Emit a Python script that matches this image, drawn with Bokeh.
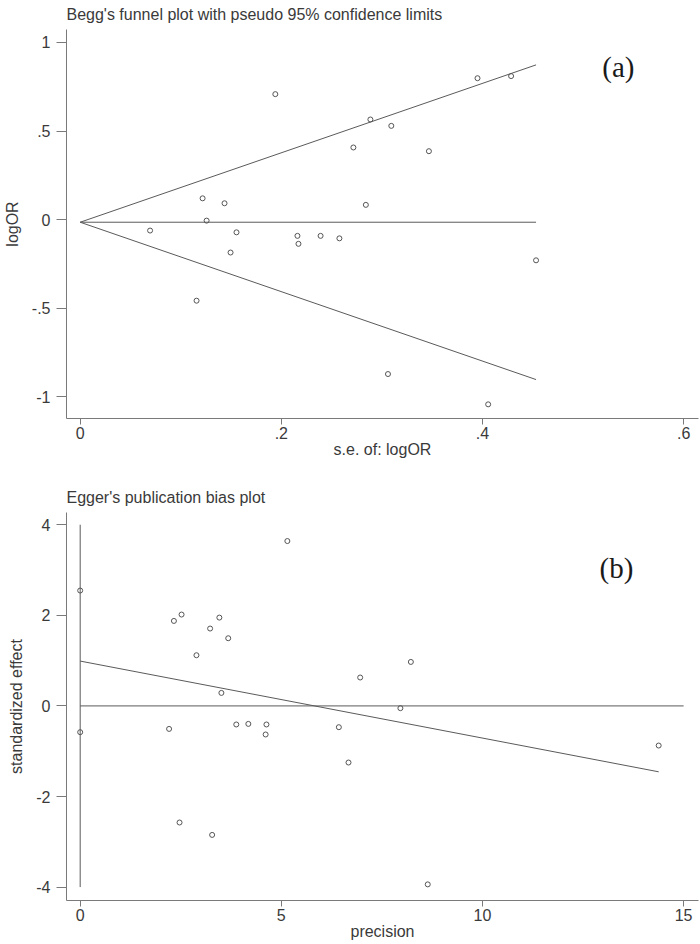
from bokeh.plotting import figure
from bokeh.layouts import column
from bokeh.models import FixedTicker, Range1d, Label
from bokeh.embed import file_html
from bokeh.resources import INLINE

# ---------------- data: Begg's funnel plot ----------------
begg_se = [0.194, 0.1217, 0.1435, 0.1257, 0.0695, 0.1554, 0.216, 0.239, 0.2577,
           0.217, 0.1495, 0.1157, 0.395, 0.4284, 0.2885, 0.3093, 0.2716, 0.3467,
           0.284, 0.4532, 0.306, 0.4056]
begg_logor = [0.708, 0.120, 0.092, -0.006, -0.062, -0.072, -0.092, -0.092, -0.106,
              -0.137, -0.186, -0.458, 0.798, 0.810, 0.565, 0.529, 0.407, 0.386,
              0.083, -0.230, -0.872, -1.043]
pooled_logor = -0.015
z95 = 1.96
begg_xticks = [0, 0.2, 0.4, 0.6]
begg_xlabels = ["0", ".2", ".4", ".6"]
begg_yticks = [-1, -0.5, 0, 0.5, 1]
begg_ylabels = ["-1", "-.5", "0", ".5", "1"]

# ---------------- data: Egger's plot ----------------
egger_prec = [0.0, 5.15, 2.33, 2.52, 3.46, 3.23, 3.68, 2.89, 3.51, 8.22, 6.96,
              0.0, 2.21, 3.88, 4.18, 4.63, 4.61, 6.43, 6.67, 2.47, 3.28,
              7.96, 14.38, 8.64]
egger_eff = [2.547, 3.64, 1.876, 2.017, 1.95, 1.708, 1.494, 1.119, 0.287, 0.971, 0.627,
             -0.58, -0.508, -0.41, -0.397, -0.41, -0.631, -0.47, -1.25, -2.574, -2.848,
             -0.05, -0.875, -3.94]
egger_intercept = 0.99
egger_slope = -0.17
egger_vline = [-4, 4]
egger_hline_end = 15
egger_xticks = [0, 5, 10, 15]
egger_yticks = [-4, -2, 0, 2, 4]

FONT = "Liberation Sans"
TXT = "#3a3a3a"
AX = "#7a7a7a"
LN = "#5a5a5a"
PT = "#555555"


def style(p, xt, xl, yt, yl, xlab, ylab):
    p.grid.visible = False
    p.outline_line_color = None
    p.title.align = "left"
    p.title.text_font = FONT
    p.title.text_font_size = "16px"
    p.title.text_font_style = "normal"
    p.title.text_color = TXT
    p.title.standoff = 10
    p.title.vertical_align = "top"
    for ax in (p.xaxis[0], p.yaxis[0]):
        ax.axis_line_color = AX
        ax.major_tick_line_color = AX
        ax.minor_tick_line_color = None
        ax.major_tick_in = 0
        ax.major_label_text_font = FONT
        ax.major_label_text_font_size = "16px"
        ax.major_label_text_color = TXT
        ax.axis_label_text_font = FONT
        ax.axis_label_text_font_size = "16px"
        ax.axis_label_text_font_style = "normal"
        ax.axis_label_text_color = TXT
    p.xaxis[0].major_tick_out = 6
    p.yaxis[0].major_tick_out = 10
    p.xaxis[0].ticker = FixedTicker(ticks=xt)
    p.yaxis[0].ticker = FixedTicker(ticks=yt)
    p.xaxis[0].major_label_overrides = {t: l for t, l in zip(xt, xl)}
    p.yaxis[0].major_label_overrides = {t: l for t, l in zip(yt, yl)}
    p.xaxis[0].axis_label = xlab
    p.yaxis[0].axis_label = ylab
    p.xaxis[0].major_label_standoff = 2
    p.xaxis[0].axis_label_standoff = -1
    p.yaxis[0].major_label_standoff = 6
    p.yaxis[0].axis_label_standoff = 8


# ---------------- panel (a) ----------------
p1 = figure(width=700, height=460, output_backend="svg", toolbar_location=None,
            title="Begg's funnel plot with pseudo 95% confidence limits",
            x_range=Range1d(-0.0136, 0.6147), y_range=Range1d(-1.123, 1.073),
            min_border_left=65, min_border_right=2, min_border_top=29, min_border_bottom=42)
style(p1, begg_xticks, begg_xlabels, begg_yticks, begg_ylabels, "s.e. of: logOR", "logOR")
se_max = max(begg_se)
p1.line([0, se_max], [pooled_logor, pooled_logor], line_color=LN, line_width=1)
p1.line([0, se_max], [pooled_logor, pooled_logor + z95 * se_max], line_color=LN, line_width=1)
p1.line([0, se_max], [pooled_logor, pooled_logor - z95 * se_max], line_color=LN, line_width=1)
p1.scatter(begg_se, begg_logor, marker="circle", size=5, fill_color=None,
           line_color=PT, line_width=1)
p1.add_layout(Label(x=0.535, y=0.859, text="(a)", text_font="Liberation Serif",
                    text_font_size="29px", text_color="#1a1a1a",
                    text_align="center", text_baseline="middle"))

# ---------------- panel (b) ----------------
p2 = figure(width=700, height=484, output_backend="svg", toolbar_location=None,
            title="Egger's publication bias plot",
            x_range=Range1d(-0.34, 15.37), y_range=Range1d(-4.296, 4.27),
            min_border_left=65, min_border_right=2, min_border_top=52, min_border_bottom=44)
style(p2, egger_xticks, [str(t) for t in egger_xticks], egger_yticks,
      [str(t) for t in egger_yticks], "precision", "standardized effect")
p2.line([0, 0], egger_vline, line_color=LN, line_width=1)
p2.line([0, egger_hline_end], [0, 0], line_color=LN, line_width=1)
pmax = max(egger_prec)
p2.line([0, pmax], [egger_intercept, egger_intercept + egger_slope * pmax],
        line_color=LN, line_width=1)
p2.scatter(egger_prec, egger_eff, marker="circle", size=5, fill_color=None,
           line_color=PT, line_width=1)
p2.add_layout(Label(x=13.33, y=3.04, text="(b)", text_font="Liberation Serif",
                    text_font_size="29px", text_color="#1a1a1a",
                    text_align="center", text_baseline="middle"))

layout = column(p1, p2, spacing=0)
open("out.html", "w").write(file_html(layout, INLINE))
